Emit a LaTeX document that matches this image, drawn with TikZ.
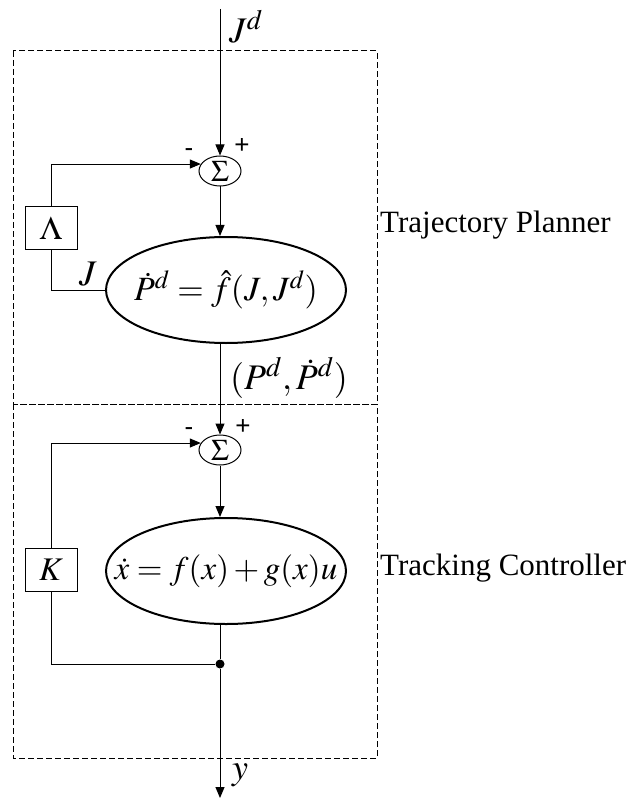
\documentclass[tikz,border=0pt]{standalone}
\usepackage{mathptmx}
\usepackage[no-math]{fontspec}
\setmainfont{Liberation Serif}
\newfontfamily\signfont{Liberation Sans}
\usetikzlibrary{arrows.meta,shapes.geometric}
\DeclareMathSizes{33}{33}{25}{18}
\DeclareMathSizes{34}{34}{26}{19}
\DeclareMathSizes{36}{36}{28}{20}

\begin{document}
\begin{tikzpicture}[x=1pt,y=-1pt,
  wire/.style={line width=1pt},
  arr/.style={wire,-{Triangle[length=11pt,width=9pt]}},
  frame/.style={line width=1pt,dash pattern=on 6pt off 3pt},
  sumnode/.style={ellipse,draw,line width=1pt,minimum width=42pt,minimum height=30pt,
    inner sep=0pt,font=\fontsize{30}{32}\selectfont},
  blocknode/.style={ellipse,draw,line width=2pt,minimum width=240pt,minimum height=106pt,
    inner xsep=-40pt,inner ysep=0pt},
  gainbox/.style={rectangle,draw,line width=1pt,minimum width=52pt,minimum height=43pt,
    inner sep=0pt,font=\fontsize{33}{36}\selectfont},
  mathlbl/.style={inner sep=0pt,font=\fontsize{36}{40}\selectfont},
  sign/.style={inner sep=0pt,font=\signfont\fontsize{26}{30}\selectfont},
  title/.style={inner sep=0pt,anchor=base west,font=\fontsize{31}{36}\selectfont},
  dotnode/.style={circle,fill,inner sep=0pt,minimum size=9pt}]
\useasboundingbox (0,0) rectangle (632,802);

% dashed frames of the two stages
\draw[frame] (13,51) rectangle (377,404);
\draw[frame] (13,404) rectangle (377,758);

% trajectory planner stage
\coordinate (in) at (220,9);
\node[sumnode] (sum1) at (220,171) {$\Sigma$};
\node[blocknode,font=\fontsize{34}{38}\selectfont] (plan) at (226,290) {$\dot P^{d} = \hat f(J, J^{d})$};
\node[gainbox] (lam) at (51,228) {$\Lambda$};

\node[mathlbl] (jdlbl) at (246,27) {$J^{d}$};
\node[sign] (m1) at (189,153) {-};
\node[sign] (p1) at (242,146) {+};
\node[mathlbl] (jlbl) at (88,274) {$J$};

\draw[arr] (in) -- (sum1.north);
\draw[arr] (sum1.south) -- (sum1.south |- plan.north);
\draw[wire] (plan.west) -| (lam.south);
\draw[arr] (lam.north) |- (sum1.160);

% tracking controller stage
\node[sumnode] (sum2) at (220,450) {$\Sigma$};
\node[blocknode,font=\fontsize{33}{38}\selectfont] (track) at (226,571) {$\dot x = f(x) + g(x)u$};
\node[gainbox] (kgain) at (51,570) {$K$};
\node[dotnode] (jn) at (220,664) {};
\coordinate (out) at (220,798);

\node[mathlbl] (pdlbl) at (289,378) {$(P^{d}, \dot P^{d})$};
\node[sign] (m2) at (189,432) {-};
\node[sign] (p2) at (243,427) {+};
\node[mathlbl] (ylbl) at (240,775) {$y$};

\draw[arr] (sum2.north |- plan.south) -- (sum2.north);
\draw[arr] (sum2.south) -- (sum2.south |- track.north);
\draw[wire] (jn |- track.south) -- (jn);
\draw[arr] (jn) -- (out);
\draw[wire] (jn) -| (kgain.south);
\draw[arr] (kgain.north) |- (sum2.160);

% stage titles
\node[title] (tp) at (380,233) {Trajectory Planner};
\node[title] (tc) at (380,575) {Tracking Controller};
\end{tikzpicture}
\end{document}
